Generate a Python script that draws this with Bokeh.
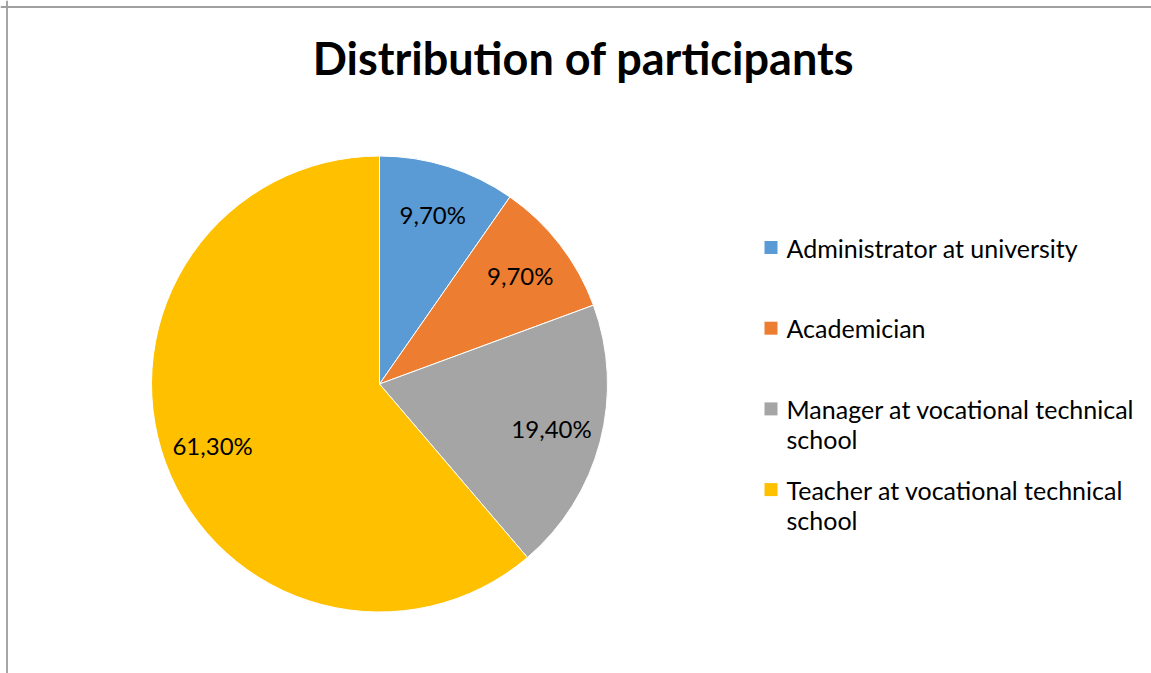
import math
from bokeh.plotting import figure
from bokeh.models import Span, ColumnDataSource, Range1d
from bokeh.core.properties import value
from bokeh.embed import file_html
from bokeh.resources import INLINE

# ---- data ----
title_text = "Distribution of participants"
categories = ["Administrator at university", "Academician",
              "Manager at vocational technical school", "Teacher at vocational technical school"]
legend_lines = [["Administrator at university"], ["Academician"],
                ["Manager at vocational technical", "school"],
                ["Teacher at vocational technical", "school"]]
values = [9.7, 9.7, 19.4, 61.3]
labels = ["9,70%", "9,70%", "19,40%", "61,30%"]
colors = ["#5B9BD5", "#ED7D31", "#A5A5A5", "#FFC000"]

W, H = 1151, 673
FONT = "Lato"

p = figure(width=W, height=H, output_backend="svg", toolbar_location=None,
           x_range=Range1d(0, W), y_range=Range1d(0, H), min_border=0)
p.axis.visible = False
p.grid.visible = False
p.outline_line_color = None
p.background_fill_color = "white"
p.border_fill_color = "white"

# border (top and left visible, as in the cropped reference)
p.add_layout(Span(location=6.5, dimension="height", line_color="#A6A6A6", line_width=2))
p.add_layout(Span(location=H - 6.5, dimension="width", line_color="#A0A0A0", line_width=2))

# pie
cx, cy, r = 379, H - 383.5, 228
total = sum(values)
starts, ends, lx, ly = [], [], [], []
cum = 0.0
for v in values:
    a0 = math.pi / 2 - 2 * math.pi * cum / total
    cum += v
    a1 = math.pi / 2 - 2 * math.pi * cum / total
    starts.append(a0)
    ends.append(a1)
    mid = (a0 + a1) / 2
    lx.append(cx + 0.78 * r * math.cos(mid))
    ly.append(cy + 0.78 * r * math.sin(mid))

src = ColumnDataSource(dict(start=starts, end=ends, color=colors, lx=lx, ly=ly, label=labels))
p.wedge(x=cx, y=cy, radius=r, start_angle="start", end_angle="end", direction="clock",
        fill_color="color", line_color="white", line_width=1, source=src)
p.text(x="lx", y="ly", text="label", source=src, text_font=value(FONT),
       text_font_size="24px", text_align="center", text_baseline="middle", text_color="black")

# title
p.text(x=[583], y=[H - 57], text=[title_text], text_font=value(FONT), text_font_size="45px",
       text_font_style="bold", text_align="center", text_baseline="middle", text_color="black")

# legend
sq_x, text_x = 770.5, 786
ys = [H - 247 - i * 80.7 for i in range(len(categories))]
p.rect(x=[sq_x] * len(ys), y=ys, width=13, height=13, fill_color=colors, line_color=None)
tx, ty, tt = [], [], []
for y0, lines in zip(ys, legend_lines):
    for j, line in enumerate(lines):
        tx.append(text_x)
        ty.append(y0 - j * 30)
        tt.append(line)
p.text(x=tx, y=ty, text=tt, text_font=value(FONT), text_font_size="25px",
       text_align="left", text_baseline="middle", text_color="black")

open("out.html", "w").write(file_html(p, INLINE))
